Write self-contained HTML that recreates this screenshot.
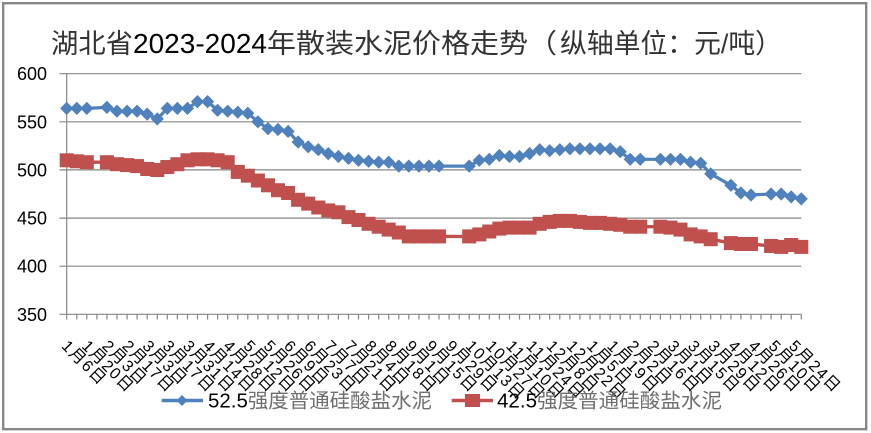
<!DOCTYPE html>
<html><head><meta charset="utf-8"><style>
html,body{margin:0;padding:0;background:#fff;}
svg{display:block;}
text{font-family:"Liberation Sans","Noto Sans CJK SC",sans-serif;}
</style></head><body>
<svg width="871" height="433" viewBox="0 0 871 433" xmlns="http://www.w3.org/2000/svg">
<defs>
<path id="dm" d="M0,-6.6 L6.6,0 L0,6.6 L-6.6,0Z" fill="#4F81BD"/>
<rect id="sq" x="-7" y="-7" width="14" height="14" fill="#C0504D"/>
</defs>
<rect x="0" y="0" width="871" height="433" fill="#fff"/>
<rect x="3.2" y="3.2" width="863" height="426" fill="none" stroke="#878787" stroke-width="2.4"/>

<!-- title -->
<text x="51" y="53" font-size="27" fill="#333" textLength="82" lengthAdjust="spacingAndGlyphs">湖北省</text>
<text x="133" y="53" font-size="27.5" fill="#000" textLength="134" lengthAdjust="spacingAndGlyphs">2023-2024</text>
<text x="267" y="53" font-size="27" fill="#333" textLength="290" lengthAdjust="spacingAndGlyphs">年散装水泥价格走势（</text>
<text x="560" y="53" font-size="27" fill="#333" textLength="222" lengthAdjust="spacingAndGlyphs">纵轴单位：元/吨）</text>

<!-- gridlines -->
<g stroke="#868686" stroke-width="1.2" fill="none">
<path d="M59.5 73.7H801.3M59.5 121.8H801.3M59.5 169.9H801.3M59.5 218.1H801.3M59.5 266.2H801.3M59.5 314.3H801.3"/>
<path d="M66.7 73.7V319.5"/>
<path d="M76.8 314.3V319.5M86.8 314.3V319.5M96.9 314.3V319.5M106.9 314.3V319.5M117.0 314.3V319.5M127.1 314.3V319.5M137.1 314.3V319.5M147.2 314.3V319.5M157.3 314.3V319.5M167.3 314.3V319.5M177.4 314.3V319.5M187.5 314.3V319.5M197.5 314.3V319.5M207.6 314.3V319.5M217.6 314.3V319.5M227.7 314.3V319.5M237.8 314.3V319.5M247.8 314.3V319.5M257.9 314.3V319.5M268.0 314.3V319.5M278.0 314.3V319.5M288.1 314.3V319.5M298.1 314.3V319.5M308.2 314.3V319.5M318.3 314.3V319.5M328.3 314.3V319.5M338.4 314.3V319.5M348.5 314.3V319.5M358.5 314.3V319.5M368.6 314.3V319.5M378.7 314.3V319.5M388.7 314.3V319.5M398.8 314.3V319.5M408.8 314.3V319.5M418.9 314.3V319.5M429.0 314.3V319.5M439.0 314.3V319.5M449.1 314.3V319.5M459.2 314.3V319.5M469.2 314.3V319.5M479.3 314.3V319.5M489.3 314.3V319.5M499.4 314.3V319.5M509.5 314.3V319.5M519.5 314.3V319.5M529.6 314.3V319.5M539.7 314.3V319.5M549.7 314.3V319.5M559.8 314.3V319.5M569.9 314.3V319.5M579.9 314.3V319.5M590.0 314.3V319.5M600.0 314.3V319.5M610.1 314.3V319.5M620.2 314.3V319.5M630.2 314.3V319.5M640.3 314.3V319.5M650.4 314.3V319.5M660.4 314.3V319.5M670.5 314.3V319.5M680.5 314.3V319.5M690.6 314.3V319.5M700.7 314.3V319.5M710.7 314.3V319.5M720.8 314.3V319.5M730.9 314.3V319.5M740.9 314.3V319.5M751.0 314.3V319.5M761.0 314.3V319.5M771.1 314.3V319.5M781.2 314.3V319.5M791.2 314.3V319.5M801.3 314.3V319.5"/>
</g>

<!-- y labels -->
<g font-size="18" fill="#000" text-anchor="end">
<text x="47" y="80.2">600</text>
<text x="47" y="128.3">550</text>
<text x="47" y="176.4">500</text>
<text x="47" y="224.6">450</text>
<text x="47" y="272.7">400</text>
<text x="47" y="320.8">350</text>
</g>

<!-- blue series -->
<polyline fill="none" stroke="#4F81BD" stroke-width="3.2" stroke-linejoin="round" points="66.7,108.4 76.8,108.4 86.8,108.4 106.9,107.4 117.0,111.2 127.1,111.2 137.1,111.2 147.2,114.1 157.3,118.9 167.3,108.4 177.4,108.4 187.5,108.4 197.5,101.6 207.6,101.6 217.6,110.3 227.7,111.2 237.8,112.2 247.8,113.2 257.9,121.8 268.0,128.6 278.0,129.5 288.1,131.4 298.1,142.0 308.2,146.8 318.3,149.7 328.3,153.6 338.4,156.5 348.5,158.4 358.5,160.3 368.6,161.3 378.7,162.2 388.7,162.2 398.8,166.1 408.8,166.1 418.9,166.1 429.0,166.1 439.0,166.1 469.2,166.1 479.3,160.3 489.3,159.3 499.4,155.5 509.5,156.5 519.5,156.5 529.6,153.6 539.7,149.7 549.7,150.7 559.8,149.7 569.9,148.8 579.9,148.8 590.0,148.8 600.0,148.8 610.1,148.8 620.2,151.7 630.2,159.3 640.3,159.3 660.4,159.3 670.5,159.3 680.5,159.3 690.6,162.2 700.7,163.2 710.7,173.8 730.9,185.3 740.9,193.0 751.0,195.0 771.1,194.0 781.2,194.0 791.2,196.9 801.3,198.9"/>
<g>
<use href="#dm" x="66.7" y="108.4"/><use href="#dm" x="76.8" y="108.4"/><use href="#dm" x="86.8" y="108.4"/><use href="#dm" x="106.9" y="107.4"/><use href="#dm" x="117.0" y="111.2"/><use href="#dm" x="127.1" y="111.2"/><use href="#dm" x="137.1" y="111.2"/><use href="#dm" x="147.2" y="114.1"/><use href="#dm" x="157.3" y="118.9"/><use href="#dm" x="167.3" y="108.4"/><use href="#dm" x="177.4" y="108.4"/><use href="#dm" x="187.5" y="108.4"/><use href="#dm" x="197.5" y="101.6"/><use href="#dm" x="207.6" y="101.6"/><use href="#dm" x="217.6" y="110.3"/><use href="#dm" x="227.7" y="111.2"/><use href="#dm" x="237.8" y="112.2"/><use href="#dm" x="247.8" y="113.2"/><use href="#dm" x="257.9" y="121.8"/><use href="#dm" x="268.0" y="128.6"/><use href="#dm" x="278.0" y="129.5"/><use href="#dm" x="288.1" y="131.4"/><use href="#dm" x="298.1" y="142.0"/><use href="#dm" x="308.2" y="146.8"/><use href="#dm" x="318.3" y="149.7"/><use href="#dm" x="328.3" y="153.6"/><use href="#dm" x="338.4" y="156.5"/><use href="#dm" x="348.5" y="158.4"/><use href="#dm" x="358.5" y="160.3"/><use href="#dm" x="368.6" y="161.3"/><use href="#dm" x="378.7" y="162.2"/><use href="#dm" x="388.7" y="162.2"/><use href="#dm" x="398.8" y="166.1"/><use href="#dm" x="408.8" y="166.1"/><use href="#dm" x="418.9" y="166.1"/><use href="#dm" x="429.0" y="166.1"/><use href="#dm" x="439.0" y="166.1"/><use href="#dm" x="469.2" y="166.1"/><use href="#dm" x="479.3" y="160.3"/><use href="#dm" x="489.3" y="159.3"/><use href="#dm" x="499.4" y="155.5"/><use href="#dm" x="509.5" y="156.5"/><use href="#dm" x="519.5" y="156.5"/><use href="#dm" x="529.6" y="153.6"/><use href="#dm" x="539.7" y="149.7"/><use href="#dm" x="549.7" y="150.7"/><use href="#dm" x="559.8" y="149.7"/><use href="#dm" x="569.9" y="148.8"/><use href="#dm" x="579.9" y="148.8"/><use href="#dm" x="590.0" y="148.8"/><use href="#dm" x="600.0" y="148.8"/><use href="#dm" x="610.1" y="148.8"/><use href="#dm" x="620.2" y="151.7"/><use href="#dm" x="630.2" y="159.3"/><use href="#dm" x="640.3" y="159.3"/><use href="#dm" x="660.4" y="159.3"/><use href="#dm" x="670.5" y="159.3"/><use href="#dm" x="680.5" y="159.3"/><use href="#dm" x="690.6" y="162.2"/><use href="#dm" x="700.7" y="163.2"/><use href="#dm" x="710.7" y="173.8"/><use href="#dm" x="730.9" y="185.3"/><use href="#dm" x="740.9" y="193.0"/><use href="#dm" x="751.0" y="195.0"/><use href="#dm" x="771.1" y="194.0"/><use href="#dm" x="781.2" y="194.0"/><use href="#dm" x="791.2" y="196.9"/><use href="#dm" x="801.3" y="198.9"/>
</g>

<!-- red series -->
<polyline fill="none" stroke="#C0504D" stroke-width="3.4" stroke-linejoin="round" points="66.7,160.3 76.8,161.3 86.8,162.2 106.9,162.2 117.0,164.2 127.1,165.1 137.1,166.1 147.2,169.0 157.3,170.0 167.3,167.0 177.4,164.2 187.5,160.3 197.5,159.3 207.6,159.3 217.6,160.3 227.7,162.2 237.8,171.9 247.8,175.7 257.9,180.5 268.0,185.3 278.0,190.2 288.1,193.0 298.1,199.8 308.2,203.6 318.3,207.5 328.3,210.4 338.4,212.3 348.5,217.1 358.5,220.0 368.6,223.8 378.7,226.7 388.7,229.6 398.8,232.5 408.8,236.4 418.9,236.4 429.0,236.4 439.0,236.4 469.2,236.4 479.3,234.4 489.3,231.5 499.4,228.6 509.5,227.6 519.5,227.6 529.6,227.6 539.7,223.8 549.7,221.9 559.8,220.9 569.9,220.9 579.9,221.9 590.0,222.9 600.0,222.9 610.1,223.8 620.2,224.8 630.2,226.7 640.3,226.7 660.4,226.7 670.5,227.6 680.5,229.6 690.6,234.4 700.7,236.4 710.7,239.2 730.9,243.1 740.9,244.0 751.0,244.0 771.1,246.0 781.2,246.9 791.2,245.0 801.3,246.9"/>
<g>
<use href="#sq" x="66.7" y="160.3"/><use href="#sq" x="76.8" y="161.3"/><use href="#sq" x="86.8" y="162.2"/><use href="#sq" x="106.9" y="162.2"/><use href="#sq" x="117.0" y="164.2"/><use href="#sq" x="127.1" y="165.1"/><use href="#sq" x="137.1" y="166.1"/><use href="#sq" x="147.2" y="169.0"/><use href="#sq" x="157.3" y="170.0"/><use href="#sq" x="167.3" y="167.0"/><use href="#sq" x="177.4" y="164.2"/><use href="#sq" x="187.5" y="160.3"/><use href="#sq" x="197.5" y="159.3"/><use href="#sq" x="207.6" y="159.3"/><use href="#sq" x="217.6" y="160.3"/><use href="#sq" x="227.7" y="162.2"/><use href="#sq" x="237.8" y="171.9"/><use href="#sq" x="247.8" y="175.7"/><use href="#sq" x="257.9" y="180.5"/><use href="#sq" x="268.0" y="185.3"/><use href="#sq" x="278.0" y="190.2"/><use href="#sq" x="288.1" y="193.0"/><use href="#sq" x="298.1" y="199.8"/><use href="#sq" x="308.2" y="203.6"/><use href="#sq" x="318.3" y="207.5"/><use href="#sq" x="328.3" y="210.4"/><use href="#sq" x="338.4" y="212.3"/><use href="#sq" x="348.5" y="217.1"/><use href="#sq" x="358.5" y="220.0"/><use href="#sq" x="368.6" y="223.8"/><use href="#sq" x="378.7" y="226.7"/><use href="#sq" x="388.7" y="229.6"/><use href="#sq" x="398.8" y="232.5"/><use href="#sq" x="408.8" y="236.4"/><use href="#sq" x="418.9" y="236.4"/><use href="#sq" x="429.0" y="236.4"/><use href="#sq" x="439.0" y="236.4"/><use href="#sq" x="469.2" y="236.4"/><use href="#sq" x="479.3" y="234.4"/><use href="#sq" x="489.3" y="231.5"/><use href="#sq" x="499.4" y="228.6"/><use href="#sq" x="509.5" y="227.6"/><use href="#sq" x="519.5" y="227.6"/><use href="#sq" x="529.6" y="227.6"/><use href="#sq" x="539.7" y="223.8"/><use href="#sq" x="549.7" y="221.9"/><use href="#sq" x="559.8" y="220.9"/><use href="#sq" x="569.9" y="220.9"/><use href="#sq" x="579.9" y="221.9"/><use href="#sq" x="590.0" y="222.9"/><use href="#sq" x="600.0" y="222.9"/><use href="#sq" x="610.1" y="223.8"/><use href="#sq" x="620.2" y="224.8"/><use href="#sq" x="630.2" y="226.7"/><use href="#sq" x="640.3" y="226.7"/><use href="#sq" x="660.4" y="226.7"/><use href="#sq" x="670.5" y="227.6"/><use href="#sq" x="680.5" y="229.6"/><use href="#sq" x="690.6" y="234.4"/><use href="#sq" x="700.7" y="236.4"/><use href="#sq" x="710.7" y="239.2"/><use href="#sq" x="730.9" y="243.1"/><use href="#sq" x="740.9" y="244.0"/><use href="#sq" x="751.0" y="244.0"/><use href="#sq" x="771.1" y="246.0"/><use href="#sq" x="781.2" y="246.9"/><use href="#sq" x="791.2" y="245.0"/><use href="#sq" x="801.3" y="246.9"/>
</g>

<!-- x labels -->
<g font-size="16" fill="#000" letter-spacing="1.5">
<text transform="translate(60.8,346.9) rotate(45)">1月6日</text>
<text transform="translate(81.0,346.9) rotate(45)">1月20日</text>
<text transform="translate(101.2,346.9) rotate(45)">2月3日</text>
<text transform="translate(121.4,346.9) rotate(45)">2月17日</text>
<text transform="translate(141.6,346.9) rotate(45)">3月3日</text>
<text transform="translate(161.8,346.9) rotate(45)">3月17日</text>
<text transform="translate(182.0,346.9) rotate(45)">3月31日</text>
<text transform="translate(202.2,346.9) rotate(45)">4月14日</text>
<text transform="translate(222.4,346.9) rotate(45)">4月28日</text>
<text transform="translate(242.6,346.9) rotate(45)">5月12日</text>
<text transform="translate(262.8,346.9) rotate(45)">5月26日</text>
<text transform="translate(283.0,346.9) rotate(45)">6月9日</text>
<text transform="translate(303.2,346.9) rotate(45)">6月23日</text>
<text transform="translate(323.4,346.9) rotate(45)">7月7日</text>
<text transform="translate(343.6,346.9) rotate(45)">7月21日</text>
<text transform="translate(363.8,346.9) rotate(45)">8月4日</text>
<text transform="translate(384.0,346.9) rotate(45)">8月18日</text>
<text transform="translate(404.2,346.9) rotate(45)">9月1日</text>
<text transform="translate(424.4,346.9) rotate(45)">9月15日</text>
<text transform="translate(444.6,346.9) rotate(45)">9月29日</text>
<text transform="translate(464.8,346.9) rotate(45)">10月13日</text>
<text transform="translate(485.0,346.9) rotate(45)">10月27日</text>
<text transform="translate(505.2,346.9) rotate(45)">11月10日</text>
<text transform="translate(525.4,346.9) rotate(45)">11月24日</text>
<text transform="translate(545.6,346.9) rotate(45)">12月8日</text>
<text transform="translate(565.8,346.9) rotate(45)">12月22日</text>
<text transform="translate(586.0,346.9) rotate(45)">1月5日</text>
<text transform="translate(606.2,346.9) rotate(45)">1月19日</text>
<text transform="translate(626.4,346.9) rotate(45)">2月2日</text>
<text transform="translate(646.6,346.9) rotate(45)">2月16日</text>
<text transform="translate(666.8,346.9) rotate(45)">3月1日</text>
<text transform="translate(687.0,346.9) rotate(45)">3月15日</text>
<text transform="translate(707.2,346.9) rotate(45)">3月29日</text>
<text transform="translate(727.4,346.9) rotate(45)">4月12日</text>
<text transform="translate(747.6,346.9) rotate(45)">4月26日</text>
<text transform="translate(767.8,346.9) rotate(45)">5月10日</text>
<text transform="translate(788.0,346.9) rotate(45)">5月24日</text>
</g>

<!-- legend -->
<line x1="161.7" y1="400.5" x2="203" y2="400.5" stroke="#4F81BD" stroke-width="3.5"/>
<path d="M182,395 L187.5,400.5 L182,406 L176.5,400.5Z" fill="#4F81BD"/>
<text x="208" y="407.7" font-size="20" fill="#000" textLength="224" lengthAdjust="spacingAndGlyphs">52.5<tspan fill="#6e6e6e">强度普通硅酸盐水泥</tspan></text>
<line x1="451.7" y1="400.5" x2="493" y2="400.5" stroke="#C0504D" stroke-width="3.5"/>
<rect x="465" y="394" width="15" height="13" fill="#C0504D"/>
<text x="497" y="407.7" font-size="20" fill="#000" textLength="225" lengthAdjust="spacingAndGlyphs">42.5<tspan fill="#6e6e6e">强度普通硅酸盐水泥</tspan></text>
</svg>
</body></html>
